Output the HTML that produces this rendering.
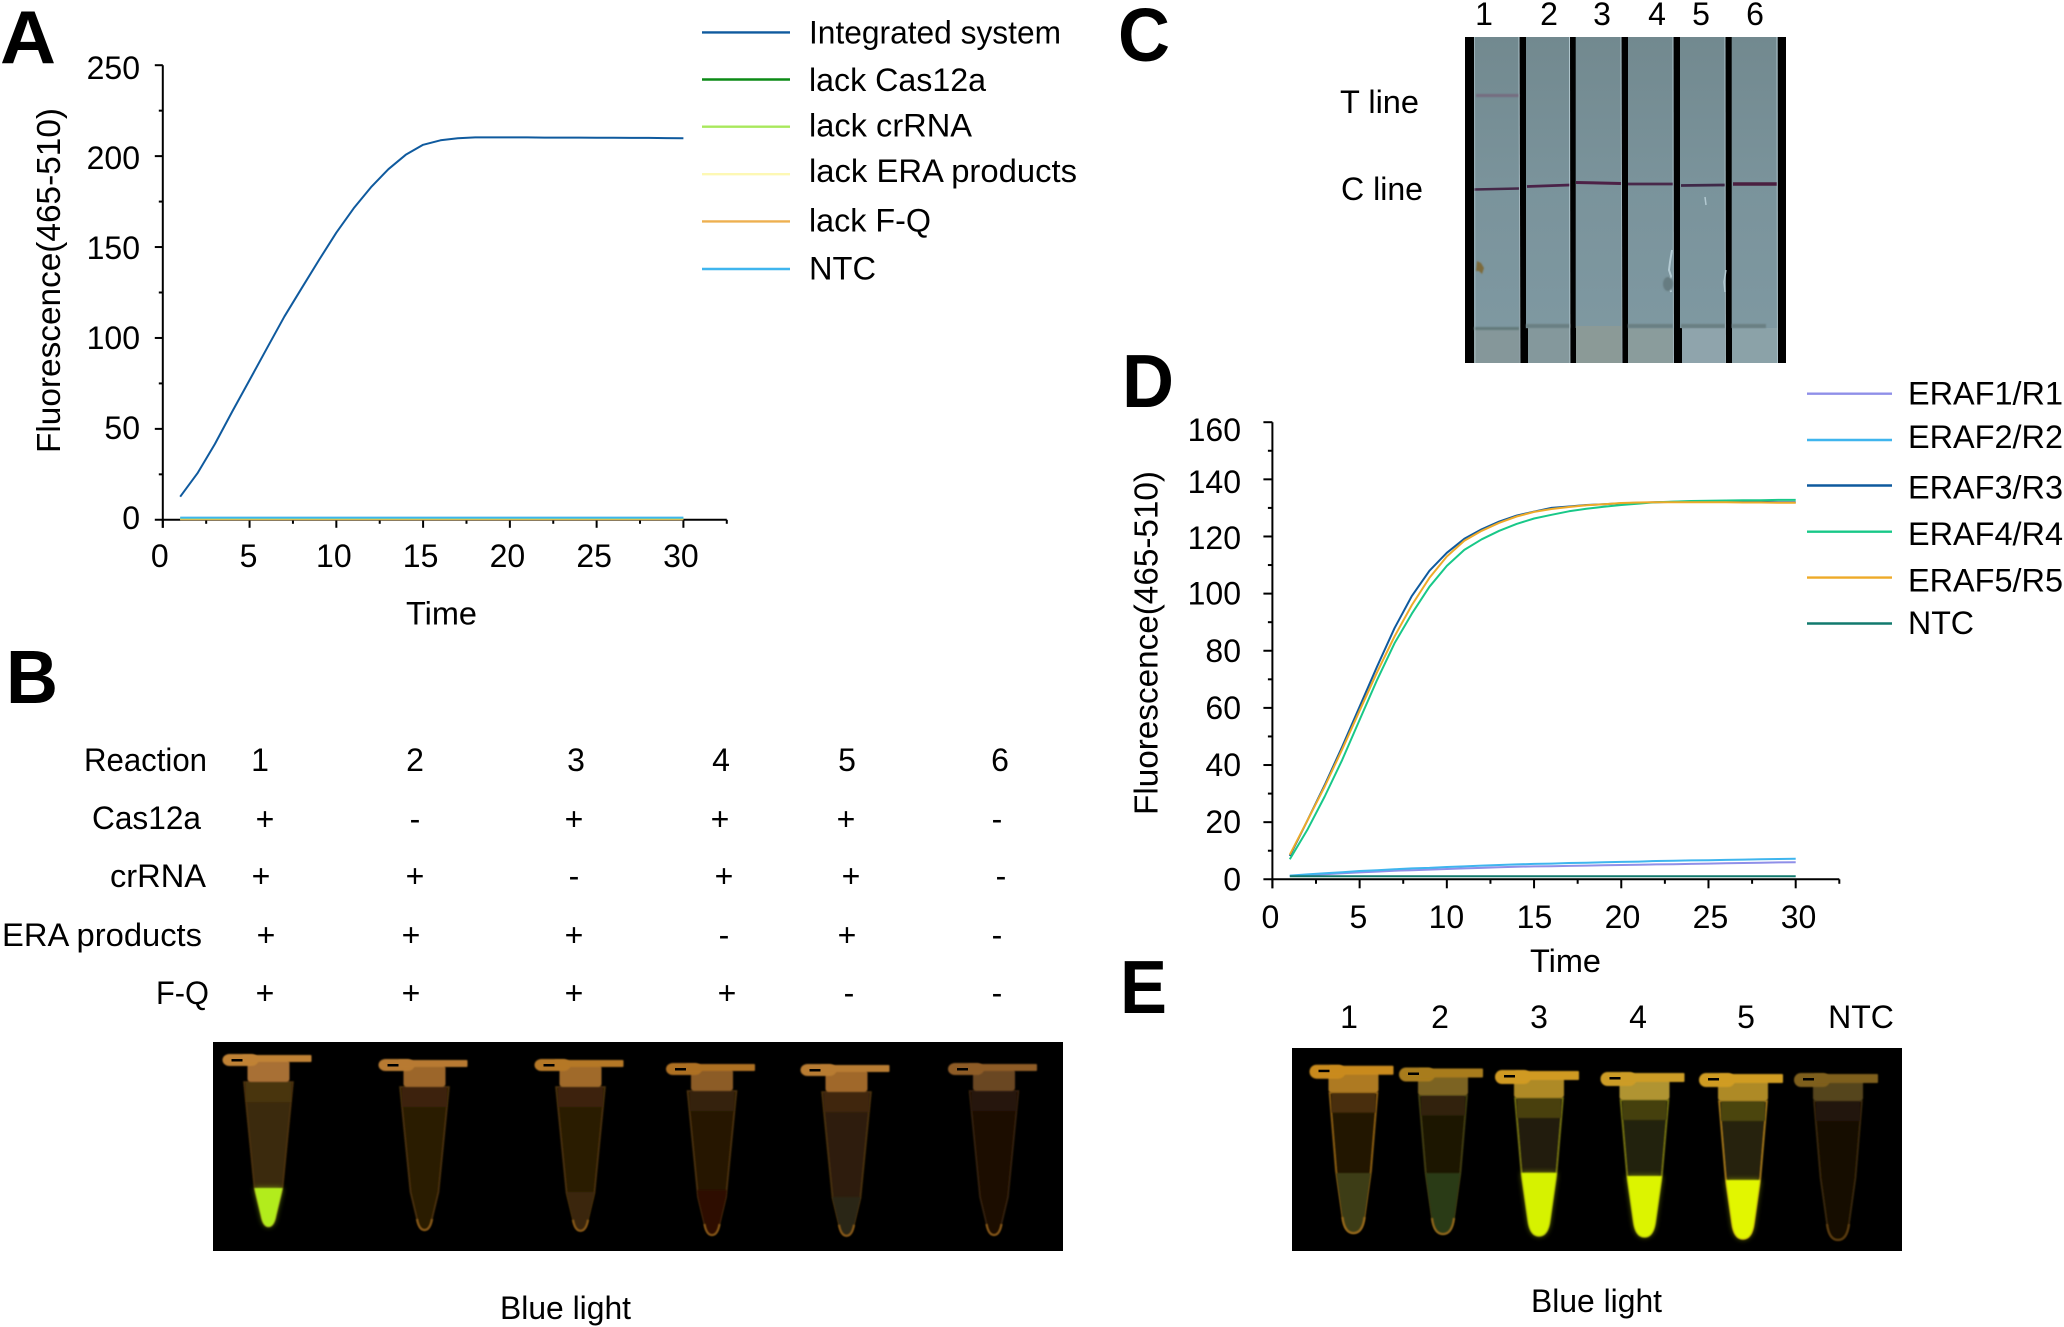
<!DOCTYPE html>
<html lang="en">
<head>
<meta charset="utf-8">
<title>Fluorescence and lateral flow results</title>
<style>
html,body{margin:0;padding:0;background:#fff;}
svg{display:block;}
text{font-family:"Liberation Sans",Arial,sans-serif;font-size:32px;fill:#000;}
.panel{font-weight:bold;font-size:75px;}
</style>
</head>
<body>
<svg id="fig" xmlns="http://www.w3.org/2000/svg" width="2064" height="1327" viewBox="0 0 2064 1327">
<defs>
<linearGradient id="stripGrad" x1="0" y1="0" x2="0" y2="1">
<stop offset="0" stop-color="#72898f"/><stop offset="0.5" stop-color="#7a939b"/><stop offset="1" stop-color="#7e98a1"/>
</linearGradient>
<filter id="soft" x="-20%" y="-20%" width="140%" height="140%"><feGaussianBlur stdDeviation="0.8"/></filter>
<filter id="glow" x="-50%" y="-50%" width="200%" height="200%"><feGaussianBlur stdDeviation="3"/></filter>
</defs>
<rect width="2064" height="1327" fill="#fff"/>

<text class="panel" x="0" y="63" textLength="56" lengthAdjust="spacingAndGlyphs">A</text>
<text class="panel" x="6" y="703" textLength="52" lengthAdjust="spacingAndGlyphs">B</text>
<text class="panel" x="1118" y="61" textLength="52" lengthAdjust="spacingAndGlyphs">C</text>
<text class="panel" x="1122" y="407" textLength="52" lengthAdjust="spacingAndGlyphs">D</text>
<text class="panel" x="1120" y="1013" textLength="47" lengthAdjust="spacingAndGlyphs">E</text>

<g id="chartA"></g>
<g id="chartD"></g>

<g>
<text x="84" y="771" textLength="123" lengthAdjust="spacingAndGlyphs">Reaction</text>
<text x="92" y="829" textLength="109" lengthAdjust="spacingAndGlyphs">Cas12a</text>
<text x="110" y="887" textLength="96" lengthAdjust="spacingAndGlyphs">crRNA</text>
<text x="2" y="946" textLength="200" lengthAdjust="spacingAndGlyphs">ERA products</text>
<text x="156" y="1004" textLength="53" lengthAdjust="spacingAndGlyphs">F-Q</text>
<g text-anchor="middle">
<text x="260" y="771">1</text>
<text x="415" y="771">2</text>
<text x="576" y="771">3</text>
<text x="721" y="771">4</text>
<text x="847" y="771">5</text>
<text x="1000" y="771">6</text>

<text x="265" y="830">+</text>
<text x="415" y="830">-</text>
<text x="574" y="830">+</text>
<text x="720" y="830">+</text>
<text x="846" y="830">+</text>
<text x="997" y="830">-</text>

<text x="261" y="887">+</text>
<text x="415" y="887">+</text>
<text x="574" y="887">-</text>
<text x="724" y="887">+</text>
<text x="851" y="887">+</text>
<text x="1001" y="887">-</text>

<text x="266" y="946">+</text>
<text x="411" y="946">+</text>
<text x="574" y="946">+</text>
<text x="724" y="946">-</text>
<text x="847" y="946">+</text>
<text x="997" y="946">-</text>

<text x="265" y="1004">+</text>
<text x="411" y="1004">+</text>
<text x="574" y="1004">+</text>
<text x="727" y="1004">+</text>
<text x="849" y="1004">-</text>
<text x="997" y="1004">-</text>
</g>
</g>

<rect x="213" y="1042" width="850" height="209" fill="#000"/>
<g id="tubesB"></g>
<text x="500" y="1319" textLength="131" lengthAdjust="spacingAndGlyphs">Blue light</text>

<rect x="1292" y="1048" width="610" height="203" fill="#000"/>
<g id="tubesE"></g>
<text x="1531" y="1312" textLength="131" lengthAdjust="spacingAndGlyphs">Blue light</text>
<g text-anchor="middle">
<text x="1349" y="1028">1</text>
<text x="1440" y="1028">2</text>
<text x="1539" y="1028">3</text>
<text x="1638" y="1028">4</text>
<text x="1746" y="1028">5</text>
<text x="1861" y="1028">NTC</text>
</g>

<g>
<rect x="1465" y="37" width="321" height="326" fill="#000"/>
<rect x="1474" y="37" width="45.500" height="291" fill="url(#stripGrad)"/>
<rect x="1526" y="37" width="44" height="291" fill="url(#stripGrad)"/>
<rect x="1575.700" y="37" width="45.800" height="291" fill="url(#stripGrad)"/>
<rect x="1628" y="37" width="45.500" height="291" fill="url(#stripGrad)"/>
<rect x="1680" y="37" width="45.300" height="291" fill="url(#stripGrad)"/>
<rect x="1731.700" y="37" width="46" height="291" fill="url(#stripGrad)"/>
<rect x="1474" y="328" width="45.500" height="35" fill="#85979a"/>
<rect x="1528" y="328" width="42" height="35" fill="#84989c"/>
<rect x="1576" y="326" width="45.500" height="37" fill="#8b9a97"/>
<rect x="1628" y="328" width="45.500" height="35" fill="#8a9c9c"/>
<rect x="1682" y="328" width="43.300" height="35" fill="#8fa4ac"/>
<rect x="1732" y="328" width="45.700" height="35" fill="#8ba2a8"/>
<g filter="url(#soft)">
<rect x="1474" y="327" width="45" height="3" fill="#637a7c"/>
<rect x="1526" y="324" width="44" height="4" fill="#6a8083"/>
<rect x="1628" y="324" width="45" height="4" fill="#6a8083"/>
<rect x="1681" y="324" width="44" height="4" fill="#6a8083"/>
<rect x="1732" y="324" width="34" height="4" fill="#6a8083"/>
<rect x="1476" y="94" width="43" height="3" fill="#74647a" opacity="0.8"/>
</g>
<line x1="1474" y1="189.500" x2="1519" y2="188.500" stroke="#452848" stroke-width="2.600"/>
<line x1="1527" y1="186.500" x2="1570" y2="185" stroke="#4a2248" stroke-width="2.800"/>
<line x1="1576" y1="182.500" x2="1621" y2="183.500" stroke="#4d2146" stroke-width="3"/>
<line x1="1628" y1="184" x2="1673" y2="184" stroke="#48284a" stroke-width="2.800"/>
<line x1="1681" y1="185.500" x2="1725" y2="185" stroke="#3f2848" stroke-width="2.800"/>
<line x1="1733" y1="184" x2="1777" y2="184" stroke="#4a1f40" stroke-width="3.400"/>
<g stroke="#c5dbe3" stroke-width="1" stroke-opacity="0.75" fill="none">
<line x1="1519" y1="37" x2="1520" y2="363"/>
<line x1="1569.500" y1="37" x2="1570" y2="363"/>
<line x1="1621" y1="37" x2="1622" y2="363"/>
<line x1="1673" y1="37" x2="1673.500" y2="363"/>
<line x1="1725" y1="37" x2="1725.500" y2="363"/>
<line x1="1777" y1="37" x2="1777.500" y2="363"/>
<line x1="1474.500" y1="37" x2="1475" y2="363" stroke-opacity="0.5"/>
<path d="M1672 250 l-2 12 l-1 8 l2 6 l-2 8 l2 8" stroke-width="2"/>
<path d="M1705 197 l1 8" stroke-width="1.500"/>
<path d="M1726 270 l-2 12 l1 10" stroke-width="1.500"/>
</g>
<path d="M1477 261 l4 2 l3 5 l-2 6 l-3 -3 l-3 0z" fill="#7d6a3a" filter="url(#soft)"/>
<ellipse cx="1668" cy="284" rx="5" ry="7" fill="#667c81" filter="url(#soft)"/>
</g>
<g text-anchor="middle">
<text x="1484" y="25">1</text>
<text x="1549" y="25">2</text>
<text x="1602" y="25">3</text>
<text x="1657" y="25">4</text>
<text x="1701" y="25">5</text>
<text x="1755" y="25">6</text>
</g>
<text x="1340" y="113" textLength="79" lengthAdjust="spacingAndGlyphs">T line</text>
<text x="1341" y="200" textLength="82" lengthAdjust="spacingAndGlyphs">C line</text>
</svg>

<script>
// ---- Chart A data ----
const timeA = [1,2,3,4,5,6,7,8,9,10,11,12,13,14,15,16,17,18,19,20,21,22,23,24,25,26,27,28,29,30];
const integratedSystem = [12.7,25.6,41.7,59.5,76.9,94.3,111.7,127.3,142.9,157.9,171.3,182.9,192.8,200.7,206.2,208.7,209.8,210.3,210.3,210.3,210.3,210.2,210.2,210.2,210.1,210.1,210,210,209.9,209.8];
const lackCas12a = [0.5,0.5,0.5,0.5,0.5,0.5,0.5,0.5,0.5,0.5,0.5,0.5,0.5,0.5,0.5,0.5,0.5,0.5,0.5,0.5,0.5,0.5,0.5,0.5,0.5,0.5,0.5,0.5,0.5,0.5];
const lackCrRNA = [0.8,0.8,0.8,0.8,0.8,0.8,0.8,0.8,0.8,0.8,0.8,0.8,0.8,0.8,0.8,0.8,0.8,0.8,0.8,0.8,0.8,0.8,0.8,0.8,0.8,0.8,0.8,0.8,0.8,0.8];
const lackEraProducts = [0.4,0.4,0.4,0.4,0.4,0.4,0.4,0.4,0.4,0.4,0.4,0.4,0.4,0.4,0.4,0.4,0.4,0.4,0.4,0.4,0.4,0.4,0.4,0.4,0.4,0.4,0.4,0.4,0.4,0.4];
const lackFQ = [0.3,0.3,0.3,0.3,0.3,0.3,0.3,0.3,0.3,0.3,0.3,0.3,0.3,0.3,0.3,0.3,0.3,0.3,0.3,0.3,0.3,0.3,0.3,0.3,0.3,0.3,0.3,0.3,0.3,0.3];
const ntcA = [1.2,1.2,1.2,1.2,1.2,1.2,1.2,1.2,1.2,1.2,1.2,1.2,1.2,1.2,1.2,1.2,1.2,1.2,1.2,1.2,1.2,1.2,1.2,1.2,1.2,1.2,1.2,1.2,1.2,1.2];
const xTicksA = [0,5,10,15,20,25,30];
const yTicksA = [0,50,100,150,200,250];
const legendNamesA = ["Integrated system","lack Cas12a","lack crRNA","lack ERA products","lack F-Q","NTC"];

// ---- Chart D data ----
const timeD = [1,2,3,4,5,6,7,8,9,10,11,12,13,14,15,16,17,18,19,20,21,22,23,24,25,26,27,28,29,30];
const eraf1 = [1.2,1.5,1.8,2.1,2.4,2.7,3,3.2,3.4,3.6,3.8,4,4.2,4.4,4.5,4.6,4.7,4.8,4.9,5,5.1,5.2,5.3,5.4,5.5,5.6,5.7,5.8,5.9,6];
const eraf2 = [1.3,1.7,2.1,2.5,2.9,3.2,3.5,3.8,4,4.3,4.5,4.8,5,5.2,5.4,5.5,5.7,5.8,6,6.1,6.2,6.4,6.5,6.6,6.7,6.8,6.9,7,7.1,7.2];
const eraf3 = [8.2,20.5,33,46.4,60.4,74.5,87.9,99.2,108,114.3,119.2,122.5,125.2,127.3,128.7,130,130.5,131,131.3,131.6,131.8,132,132.1,132.1,132.1,132.1,132.1,132.1,132,132];
const eraf4 = [7,17.3,29,41.8,55.8,69.8,82.6,93,102.4,109.7,115.3,119,122,124.4,126.3,127.6,128.8,129.7,130.4,131,131.5,132,132.2,132.4,132.5,132.6,132.7,132.7,132.8,132.8];
const eraf5 = [8.6,20.5,32.5,45.5,59,72.5,85,96,105.5,113,118.5,122,124.8,127,128.6,129.6,130.3,130.9,131.3,131.7,131.9,132,132,132,132,132,131.9,131.9,131.8,131.8];
const ntcD = [1.1,1.1,1.1,1.1,1.1,1.1,1.1,1.1,1.1,1.1,1.1,1.1,1.1,1.1,1.1,1.1,1.1,1.1,1.1,1.1,1.1,1.1,1.1,1.1,1.1,1.1,1.1,1.1,1.1,1.1];
const xTicksD = [0,5,10,15,20,25,30];
const yTicksD = [0,20,40,60,80,100,120,140,160];
const legendNamesD = ["ERAF1/R1","ERAF2/R2","ERAF3/R3","ERAF4/R4","ERAF5/R5","NTC"];

const NS = "http://www.w3.org/2000/svg";
function mk(parent, tag, props) {
  const el = document.createElementNS(NS, tag);
  for (const k in props) el.setAttribute(k, props[k]);
  parent.appendChild(el);
  return el;
}
function slug(s) { return s.toLowerCase().replace(/[^a-z0-9]+/g, '-'); }

// ---- axis functions ----
const xA = t => 162.8 + t * (683.4 - 162.8) / 30;
const yA = v => 519.8 - v * (519.8 - 65.2) / 250;
const xD = t => 1272.4 + t * (1795.7 - 1272.4) / 30;
const yD = v => 879.3 - v * (879.3 - 422.2) / 160;

function drawAxes(g, x, y, xTicks, yTicks, xMinorStep, yMinorStep, yMax, tickMajor, labelRight, xLabelY, xOffset, yOffset) {
  const axisY = mk(g, 'line', {x1: x(0), y1: y(yMax), x2: x(0), y2: y(0) + tickMajor, stroke: '#000', 'stroke-width': 2});
  
  
  const axisX = mk(g, 'line', {x1: x(0) - tickMajor, y1: y(0), x2: x(32.5), y2: y(0), stroke: '#000', 'stroke-width': 2});
  
  
  for (let t = 0; t <= 32.5; t += xMinorStep) {
    const major = xTicks.includes(t);
    const tick = mk(g, 'line', {x1: x(t), y1: y(0), x2: x(t), y2: y(0) + (major ? tickMajor : tickMajor / 2), stroke: '#000', 'stroke-width': 2});
    
    
  }
  for (let v = yMinorStep; v <= yMax; v += yMinorStep) {
    const major = yTicks.includes(v);
    const tick = mk(g, 'line', {x1: x(0), y1: y(v), x2: x(0) - (major ? tickMajor : tickMajor / 2), y2: y(v), stroke: '#000', 'stroke-width': 2});
    
    
  }
  xTicks.forEach(t => {
    const lab = mk(g, 'text', {x: x(t) + xOffset(t), y: xLabelY, 'text-anchor': 'middle'});
    lab.textContent = t;
    
    
  });
  yTicks.forEach(v => {
    const lab = mk(g, 'text', {x: labelRight, y: y(v) + yOffset(v), 'text-anchor': 'end'});
    lab.textContent = v;
    
    
  });
}
function drawSeries(g, xs, ys, x, y, color, name, width) {
  const pts = xs.map((t, i) => x(t).toFixed(1) + ',' + y(ys[i]).toFixed(1)).join(' ');
  const line = mk(g, 'polyline', {points: pts, fill: 'none', stroke: color, 'stroke-width': width, 'stroke-linejoin': 'round'});
  
  
}
function drawLegendRow(g, name, color, x1, x2, lineY, textX, textY, textW) {
  const sw = mk(g, 'line', {x1: x1, y1: lineY, x2: x2, y2: lineY, stroke: color, 'stroke-width': 2.4});
  
  
  const t = mk(g, 'text', {x: textX, y: textY, textLength: textW, lengthAdjust: 'spacingAndGlyphs'});
  t.textContent = name;
  
  
}

// ---- draw chart A ----
const gA = document.getElementById('chartA');
const colorsA = ['#0f5a9e', '#0c8a16', '#a8e85c', '#fdf8b4', '#eeb050', '#3fb5ee'];
const seriesA = [lackCas12a, lackEraProducts, lackFQ, lackCrRNA, ntcA, integratedSystem];
const seriesANames = [legendNamesA[1], legendNamesA[3], legendNamesA[4], legendNamesA[2], legendNamesA[5], legendNamesA[0]];
const seriesAColors = [colorsA[1], colorsA[3], colorsA[4], colorsA[2], colorsA[5], colorsA[0]];
drawAxes(gA, xA, yA, xTicksA, yTicksA, 2.5, 25, 250, 8, 140, 567, t => t === 5 ? -1 : t === 0 ? -3 : -2.5, v => 9 + v * 0.02);
seriesA.forEach((s, i) => drawSeries(gA, timeA, s, xA, yA, seriesAColors[i], seriesANames[i], 2));
const legALineY = [32.4, 79.5, 126.7, 174.2, 221.4, 269];
const legATextY = [43.5, 91, 136.5, 182, 231.5, 279.5];
const legAW = [252, 177, 163, 268, 122, 67];
legendNamesA.forEach((n, i) => drawLegendRow(gA, n, colorsA[i], 702, 790, legALineY[i], 809, legATextY[i], legAW[i]));
const titleAx = mk(gA, 'text', {x: 406, y: 624.5, textLength: 71, lengthAdjust: 'spacingAndGlyphs'});
titleAx.textContent = 'Time';


const titleAy = mk(gA, 'text', {transform: 'translate(60,453) rotate(-90)', textLength: 345, lengthAdjust: 'spacingAndGlyphs', style: 'font-size:33px'});
titleAy.textContent = 'Fluorescence(465-510)';



// ---- draw chart D ----
const gD = document.getElementById('chartD');
const colorsD = ['#8f8fe8', '#3fb5ee', '#0f5a9e', '#18c888', '#eeaa28', '#127a6e'];
const seriesD = [eraf1, eraf2, ntcD, eraf3, eraf4, eraf5];
const seriesDNames = [legendNamesD[0], legendNamesD[1], legendNamesD[5], legendNamesD[2], legendNamesD[3], legendNamesD[4]];
const seriesDColors = [colorsD[0], colorsD[1], colorsD[5], colorsD[2], colorsD[3], colorsD[4]];
drawAxes(gD, xD, yD, xTicksD, yTicksD, 2.5, 10, 160, 9, 1241, 928, t => -2 + t * 0.16, v => (v >= 160 ? 19 : 11 + Math.max(0, v - 100) * 0.07));
seriesD.forEach((s, i) => drawSeries(gD, timeD, s, xD, yD, seriesDColors[i], seriesDNames[i], 2));
const legDLineY = [393.7, 440, 485.5, 531.7, 577.6, 623.5];
const legDTextY = [404.4, 448, 498.5, 545, 591.4, 634];
const legDW = [155, 155, 155, 155, 155, 66];
legendNamesD.forEach((n, i) => drawLegendRow(gD, n, colorsD[i], 1807, 1892, legDLineY[i], 1908, legDTextY[i], legDW[i]));
const titleDx = mk(gD, 'text', {x: 1530, y: 972, textLength: 71, lengthAdjust: 'spacingAndGlyphs'});
titleDx.textContent = 'Time';


const titleDy = mk(gD, 'text', {transform: 'translate(1157.5,815) rotate(-90)', textLength: 344, lengthAdjust: 'spacingAndGlyphs', style: 'font-size:33px'});
titleDy.textContent = 'Fluorescence(465-510)';



// ---- photo tubes ----
function drawTube(parent, o) {
  const g = mk(parent, 'g', {});
  
  
  const T = o.top, B = o.tip, c = o.cx, by = T + o.collarH;
  const yMid = B - o.midUp, yEnd = B - o.endUp;
  function outline(yTop, hTop) {
    let d = 'M' + (c - hTop) + ' ' + yTop;
    if (yTop < yMid) d += ' L' + (c - o.h1) + ' ' + yMid;
    d += ' L' + (c - o.hT) + ' ' + yEnd + ' Q' + (c - o.hT + 2) + ' ' + B + ' ' + c + ' ' + B +
      ' Q' + (c + o.hT - 2) + ' ' + B + ' ' + (c + o.hT) + ' ' + yEnd;
    if (yTop < yMid) d += ' L' + (c + o.h1) + ' ' + yMid;
    return d + ' L' + (c + hTop) + ' ' + yTop + ' Z';
  }
  function widthAt(yy) {
    if (yy <= yMid) return o.h0 + (o.h1 - o.h0) * (yy - by) / (yMid - by);
    return o.h1 + (o.hT - o.h1) * (yy - yMid) / (yEnd - yMid);
  }
  mk(g, 'path', {d: outline(by, o.h0), fill: o.bodyFill, stroke: o.edge, 'stroke-width': 1.5, filter: 'url(#soft)'});
  mk(g, 'rect', {x: c - o.h0 + 2, y: by, width: 2 * o.h0 - 4, height: 20, fill: o.upper, filter: 'url(#soft)'});
  if (o.liquidTop) {
    const d = outline(o.liquidTop, widthAt(o.liquidTop));
    if (o.bright) mk(g, 'path', {d: d, fill: o.liquid, opacity: 0.55, filter: 'url(#glow)'});
    mk(g, 'path', {d: d, fill: o.liquid, filter: 'url(#soft)'});
  }
  mk(g, 'line', {x1: c - widthAt(T + 52), y1: T + 52, x2: c + widthAt(T + 52), y2: T + 52, stroke: o.band, 'stroke-width': 2, filter: 'url(#soft)'});
  const tipD = 'M' + (c - o.hT) + ' ' + yEnd + ' Q' + (c - o.hT + 2) + ' ' + B + ' ' + c + ' ' + B + ' Q' + (c + o.hT - 2) + ' ' + B + ' ' + (c + o.hT) + ' ' + yEnd;
  if (!o.bright) mk(g, 'path', {d: tipD, fill: 'none', stroke: o.tipColor, 'stroke-width': 2, filter: 'url(#soft)'});
  mk(g, 'rect', {x: c - o.collarW / 2, y: T + 6, width: o.collarW, height: o.collarH - 6, rx: 3, fill: o.collar, filter: 'url(#soft)'});
  mk(g, 'rect', {x: c - o.capL, y: T, width: 36, height: o.capH + 3, rx: 7, fill: o.cap, filter: 'url(#soft)'});
  mk(g, 'rect', {x: c - o.capL + 20, y: T + 1, width: o.capL + o.capR - 20, height: o.capH - 2, rx: 1, fill: o.cap, filter: 'url(#soft)'});
  mk(g, 'rect', {x: c - o.capL + 9, y: T + 5, width: 11, height: 2.5, fill: '#000'});
}
const tubesBCx = [268.5, 424.5, 580.5, 712, 846.5, 994];
const tubesBTop = [1054, 1059, 1059, 1063, 1064, 1063];
const tubesBTip = [1226.7, 1230, 1230.7, 1235, 1235.7, 1235];
const tubesBLiquid = [1188, 0, 1192, 1190, 1197, 0];
const tubesBLiquidColor = ['#b2ec1c', '#000', '#3a2808', '#2e0c04', '#2b2814', '#000'];
const tubesBCap = ['#c08236', '#b87a30', '#b57828', '#ad6f24', '#b87c30', '#8e5c26'];
const tubesBCollar = ['#a87034', '#9c662a', '#a06a2a', '#8c5c26', '#a0682a', '#6a4620'];
const tubesBBody = ['#3a2a0c', '#2c1a06', '#2c1a06', '#281204', '#2e1f0a', '#1c1004'];
const tubesBUpper = ['#4a3410', '#3c2408', '#3c2408', '#362008', '#40280c', '#281808'];
const gB = document.getElementById('tubesB');
tubesBCx.forEach((cx, i) => drawTube(gB, {
  name: 'tube-b-' + (i + 1), cx: cx, top: tubesBTop[i], tip: tubesBTip[i], h0: 24.5, h1: 14, hT: 7.5, midUp: 38, endUp: 11,
  capL: 46, capR: 43, capH: 9, collarW: 42, collarH: 28, collar: tubesBCollar[i], cap: tubesBCap[i],
  bodyFill: tubesBBody[i], upper: tubesBUpper[i], edge: i === 5 ? '#38220e' : '#50340e', band: '#5a3c12', tipColor: '#8a5a18',
  liquidTop: tubesBLiquid[i], liquid: tubesBLiquidColor[i], bright: i === 0
}));

const tubesECx = [1353.5, 1443, 1539, 1644.5, 1743, 1838];
const tubesETop = [1064.7, 1067.5, 1070, 1072, 1073, 1073];
const tubesETip = [1233, 1234, 1236, 1237, 1239, 1240];
const tubesELiquid = [1173, 1173, 1172.7, 1176, 1180, 0];
const tubesELiquidColor = ['#3c3e12', '#2a3a12', '#d6f200', '#dcf400', '#e2f600', '#000'];
const tubesECap = ['#c98a1e', '#a87c1e', '#d09a20', '#cc9c26', '#d09c20', '#7e5e1c'];
const tubesECollar = ['#ae7a20', '#7c6420', '#ae8a28', '#b09430', '#ae8a28', '#54441a'];
const tubesEBody = ['#221404', '#1a1204', '#201c08', '#222208', '#26240a', '#160e04'];
const tubesEUpper = ['#4a2e0a', '#32240a', '#4a4010', '#44400f', '#4c4410', '#221808'];
const tubesEEdge = ['#9a6818', '#4a4412', '#7e7c14', '#7e7c14', '#b0801c', '#3e2c0c'];
const tubesEBand = ['#b08a30', '#7a7428', '#9c9a30', '#9c9a30', '#a09a34', '#3a2a0c'];
const gE = document.getElementById('tubesE');
tubesECx.forEach((cx, i) => drawTube(gE, {
  name: 'tube-e-' + (i + 1), cx: cx, top: tubesETop[i], tip: tubesETip[i], h0: 24, h1: 17.5, hT: 11, midUp: 62, endUp: 16,
  capL: 44, capR: 40, capH: 11, collarW: 50, collarH: 28, collar: tubesECollar[i], cap: tubesECap[i],
  bodyFill: tubesEBody[i], upper: tubesEUpper[i], edge: tubesEEdge[i], band: tubesEBand[i], tipColor: i === 5 ? '#5a3a0e' : '#96681a',
  liquidTop: tubesELiquid[i], liquid: tubesELiquidColor[i], bright: i >= 2 && i <= 4
}));
</script>
</body>
</html>
